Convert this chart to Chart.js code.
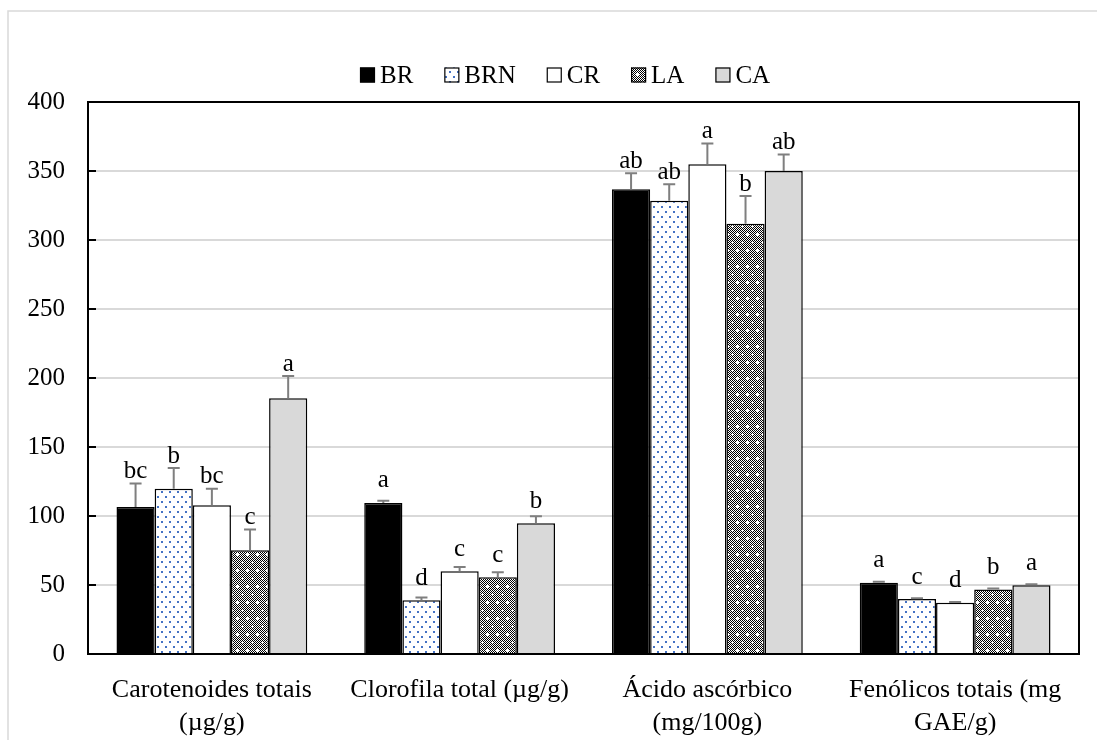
<!DOCTYPE html>
<html>
<head>
<meta charset="utf-8">
<script src="https://cdn.jsdelivr.net/npm/chart.js@4.4.0/dist/chart.umd.min.js"></script>
<style>
  body { margin: 0; background: #fff; }
</style>
</head>
<body>
<canvas id="chart" width="1097" height="740"></canvas>
<script>
// chart data
const categories = [
    ['Carotenoides totais', '(µg/g)'],
    'Clorofila total (µg/g)',
    ['Ácido ascórbico', '(mg/100g)'],
    ['Fenólicos totais (mg', 'GAE/g)']
];
const seriesNames = ['BR', 'BRN', 'CR', 'LA', 'CA'];

const brValues  = [106.5, 109.5, 336.8, 51.6];
const brnValues = [119.8, 39.0, 328.4, 39.8];
const crValues  = [107.8, 60.0, 354.9, 37.1];
const laValues  = [75.2, 55.7, 311.8, 46.8];
const caValues  = [185.4, 94.8, 350.0, 49.9];

const brErrors  = [17, 1.5, 11.5, 0.8];
const brnErrors = [15, 2, 12, 0.6];
const crErrors  = [12, 3, 15, 0.5];
const laErrors  = [15, 3.5, 20, 0.6];
const caErrors  = [16, 5, 12, 0.6];

const brLetters  = ['bc', 'a', 'ab', 'a'];
const brnLetters = ['b', 'd', 'ab', 'c'];
const crLetters  = ['bc', 'c', 'a', 'd'];
const laLetters  = ['c', 'c', 'b', 'b'];
const caLetters  = ['a', 'b', 'ab', 'a'];

const yTicks = [0, 50, 100, 150, 200, 250, 300, 350, 400];

const FONT = '"Liberation Serif", "Times New Roman", serif';

// fill patterns
function dotPattern() {
    const c = document.createElement('canvas');
    c.width = 8; c.height = 10;
    const g = c.getContext('2d');
    g.fillStyle = '#fff';
    g.fillRect(0, 0, 8, 10);
    g.fillStyle = '#4472C4';
    g.fillRect(1, 1, 2, 2);
    g.fillRect(5, 6, 2, 2);
    return g.createPattern(c, 'repeat');
}

function checkPattern() {
    const c = document.createElement('canvas');
    c.width = 10; c.height = 16;
    const g = c.getContext('2d');
    g.fillStyle = '#fff';
    g.fillRect(0, 0, 10, 16);
    g.fillStyle = '#000';
    for (let i = 0; i < 10; i++) {
        for (let j = 0; j < 16; j++) {
            if ((i + j) % 2 === 0) g.fillRect(i, j, 1, 1);
        }
    }
    g.fillStyle = '#fff';
    g.fillRect(1, 2, 3, 1); g.fillRect(2, 1, 1, 3);
    g.fillRect(6, 10, 3, 1); g.fillRect(7, 9, 1, 3);
    return g.createPattern(c, 'repeat');
}

const fills = ['#000000', dotPattern(), '#ffffff', checkPattern(), '#d9d9d9'];
const allValues = [brValues, brnValues, crValues, laValues, caValues];
const allErrors = [brErrors, brnErrors, crErrors, laErrors, caErrors];
const allLetters = [brLetters, brnLetters, crLetters, laLetters, caLetters];

const datasets = seriesNames.map((name, i) => ({
    label: name,
    data: allValues[i],
    errors: allErrors[i],
    letters: allLetters[i],
    backgroundColor: fills[i],
    borderColor: '#000',
    borderWidth: 1.5,
    categoryPercentage: 0.77,
    barPercentage: 1.0
}));

// outer light frame of the figure
const framePlugin = {
    id: 'frame',
    beforeDraw(chart) {
        const ctx = chart.ctx;
        ctx.save();
        ctx.strokeStyle = '#d9d9d9';
        ctx.lineWidth = 1.5;
        ctx.beginPath();
        ctx.moveTo(8, 740);
        ctx.lineTo(8, 11);
        ctx.lineTo(1097, 11);
        ctx.stroke();
        ctx.restore();
    }
};

// error bars (upper half only) and significance letters
const errorPlugin = {
    id: 'errorBars',
    afterDatasetsDraw(chart) {
        const ctx = chart.ctx;
        const y = chart.scales.y;
        ctx.save();
        chart.data.datasets.forEach((ds, di) => {
            const meta = chart.getDatasetMeta(di);
            meta.data.forEach((bar, k) => {
                const top = y.getPixelForValue(ds.data[k]);
                const cap = y.getPixelForValue(ds.data[k] + ds.errors[k]);
                ctx.strokeStyle = '#7f7f7f';
                ctx.lineWidth = 2;
                ctx.beginPath();
                ctx.moveTo(bar.x, top);
                ctx.lineTo(bar.x, cap);
                ctx.moveTo(bar.x - 6, cap);
                ctx.lineTo(bar.x + 6, cap);
                ctx.stroke();

                const ly = Math.min(cap - 12, top - 22);
                ctx.fillStyle = '#000';
                ctx.font = '25px ' + FONT;
                ctx.textAlign = 'center';
                ctx.textBaseline = 'middle';
                ctx.fillText(ds.letters[k], bar.x, ly);
            });
        });
        ctx.restore();
    }
};

// plot border, inner tick marks and legend
const decorPlugin = {
    id: 'decor',
    afterDraw(chart) {
        const ctx = chart.ctx;
        const a = chart.chartArea;
        const y = chart.scales.y;
        ctx.save();
        ctx.strokeStyle = '#000';
        ctx.lineWidth = 2;
        ctx.strokeRect(a.left, a.top, a.right - a.left, a.bottom - a.top);
        ctx.beginPath();
        y.ticks.forEach(t => {
            const py = y.getPixelForValue(t.value);
            ctx.moveTo(a.left, py);
            ctx.lineTo(a.left + 8, py);
        });
        ctx.stroke();

        // legend
        ctx.font = '25px ' + FONT;
        ctx.textBaseline = 'middle';
        ctx.textAlign = 'left';
        let x = 360;
        const cy = 75;
        chart.data.datasets.forEach(ds => {
            ctx.fillStyle = ds.backgroundColor;
            ctx.fillRect(x, cy - 7.5, 15, 15);
            ctx.lineWidth = 1.2;
            ctx.strokeStyle = '#000';
            ctx.strokeRect(x + 0.5, cy - 7, 14, 14);
            ctx.fillStyle = '#000';
            ctx.fillText(ds.label, x + 20, cy + 1);
            x += 20 + ctx.measureText(ds.label).width + 31;
        });
        ctx.restore();
    }
};

new Chart(document.getElementById('chart'), {
    type: 'bar',
    data: { labels: categories, datasets: datasets },
    options: {
        responsive: false,
        animation: false,
        layout: { padding: { top: 102, right: 18, left: 0, bottom: 0 } },
        plugins: {
            legend: { display: false },
            tooltip: { enabled: false }
        },
        scales: {
            x: {
                grid: { display: false },
                border: { display: false },
                ticks: {
                    color: '#000',
                    padding: 12,
                    maxRotation: 0,
                    autoSkip: false,
                    font: { family: FONT, size: 26, lineHeight: 1.27 }
                },
                afterFit(scale) { scale.height = 86; }
            },
            y: {
                min: 0,
                max: 400,
                afterBuildTicks(scale) {
                    scale.ticks = yTicks.map(v => ({ value: v }));
                },
                grid: { color: '#d9d9d9', lineWidth: 2, drawTicks: false },
                border: { display: false },
                ticks: {
                    color: '#000',
                    padding: 23,
                    font: { family: FONT, size: 25 }
                },
                afterFit(scale) { scale.width = 88; }
            }
        }
    },
    plugins: [framePlugin, errorPlugin, decorPlugin]
});
</script>
</body>
</html>
